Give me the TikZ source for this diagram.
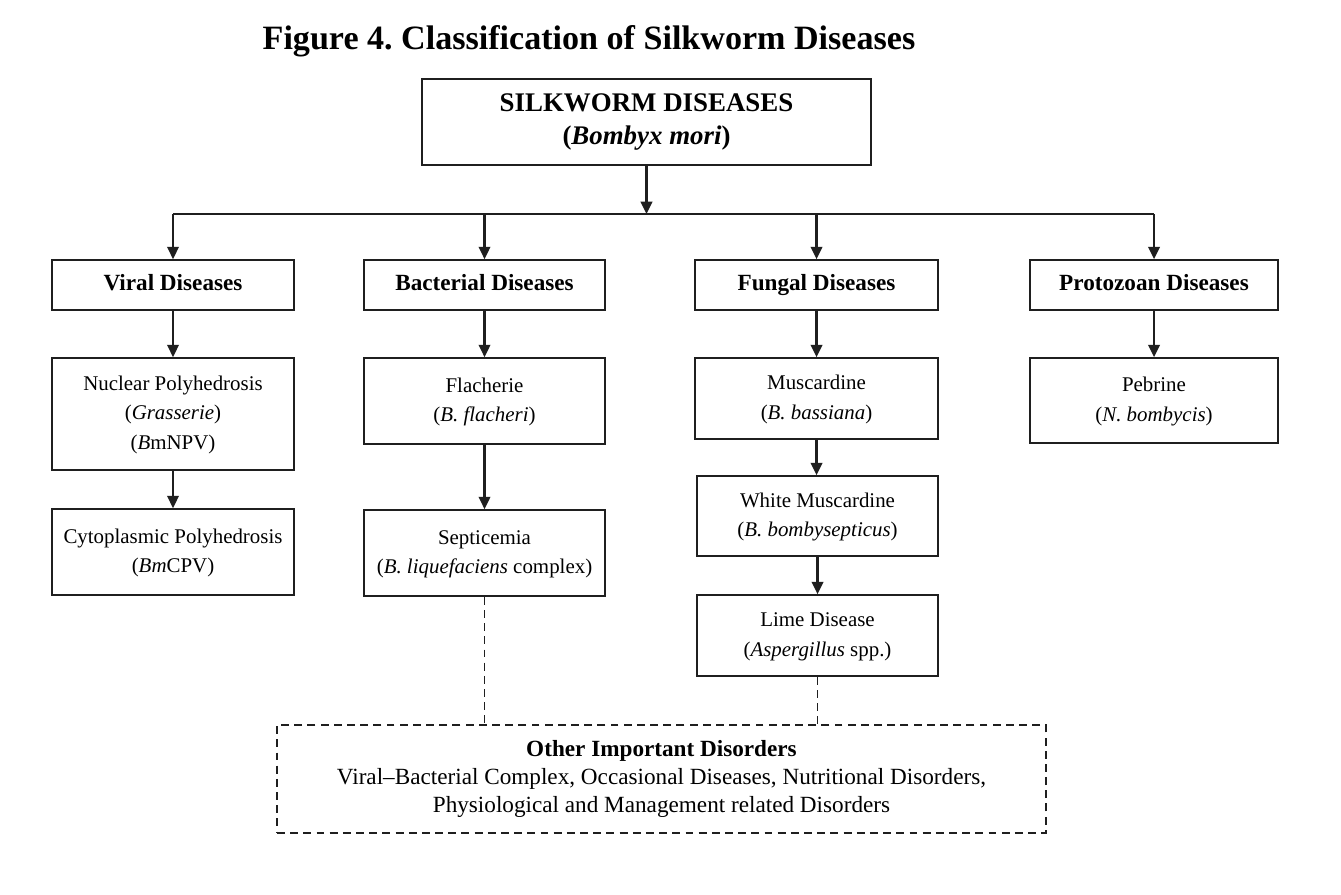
\documentclass[tikz,border=0pt]{standalone}
\usepackage{fontspec}
\setmainfont{Liberation Serif}
\usetikzlibrary{arrows.meta}
\frenchspacing
\begin{document}
\begin{tikzpicture}[x=0.02cm,y=-0.02cm,
  box/.style={draw=black!88,line width=0.95pt,inner sep=0pt,align=center,fill=white},
  body/.style={font=\fontsize{11.9}{17}\selectfont},
  head/.style={font=\fontsize{13.2}{16}\selectfont\bfseries},
  arr/.style={line width=1.3pt,draw=black!88,-{Triangle[length=7pt,width=6.5pt]}},
  dashline/.style={line width=1.1pt,draw=black!88,dash pattern=on 4.5pt off 3pt}]
\useasboundingbox (0,0) rectangle (1341,894);
\fill[white] (0,0) rectangle (1341,894);
\node[anchor=base,font=\fontsize{19.4}{22}\selectfont\bfseries] (title) at (589,49) {Figure 4. Classification of Silkworm Diseases};
\node[box,minimum width=449*0.02cm,minimum height=86*0.02cm,font=\fontsize{15.3}{18.7}\selectfont\bfseries] (root) at (646.5,122) {SILKWORM DISEASES\\(\textit{Bombyx mori})};
\node[box,head,minimum width=242*0.02cm,minimum height=50*0.02cm] (viral) at (173,285) {\strut Viral Diseases};
\node[box,head,minimum width=241*0.02cm,minimum height=50*0.02cm] (bact) at (484.5,285) {\strut Bacterial Diseases};
\node[box,head,minimum width=243*0.02cm,minimum height=50*0.02cm] (fung) at (816.5,285) {\strut Fungal Diseases};
\node[box,head,minimum width=248*0.02cm,minimum height=50*0.02cm] (proto) at (1154,285) {\strut Protozoan Diseases};
\node[box,body,minimum width=242*0.02cm,minimum height=112*0.02cm] (npv) at (173,414) {\strut Nuclear Polyhedrosis\\(\textit{Grasserie})\\(\textit{B}mNPV)\strut};
\node[box,body,minimum width=241*0.02cm,minimum height=86*0.02cm] (flach) at (484.5,401) {\strut Flacherie\\(\textit{B. flacheri})\strut};
\node[box,body,minimum width=243*0.02cm,minimum height=81*0.02cm] (musc) at (816.5,398.5) {\strut Muscardine\\(\textit{B. bassiana})\strut};
\node[box,body,minimum width=248*0.02cm,minimum height=85*0.02cm] (pebr) at (1154,400.5) {\strut Pebrine\\(\textit{N. bombycis})\strut};
\node[box,body,minimum width=242*0.02cm,minimum height=86*0.02cm] (cpv) at (173,552) {\strut Cytoplasmic Polyhedrosis\\(\textit{Bm}CPV)\strut};
\node[box,body,minimum width=241*0.02cm,minimum height=86*0.02cm] (sept) at (484.5,553) {\strut Septicemia\\(\textit{B. liquefaciens} complex)\strut};
\node[box,body,minimum width=241*0.02cm,minimum height=80*0.02cm] (white) at (817.5,516) {\strut White Muscardine\\(\textit{B. bombysepticus})\strut};
\node[box,body,minimum width=241*0.02cm,minimum height=81*0.02cm] (lime) at (817.5,635.5) {\strut Lime Disease\\(\textit{Aspergillus} spp.)\strut};
\node[box,dashline,minimum width=769*0.02cm,minimum height=108*0.02cm,font=\fontsize{13.2}{15.9}\selectfont] (other) at (661.5,779) {\textbf{Other Important Disorders}\\Viral–Bacterial Complex, Occasional Diseases, Nutritional Disorders,\\Physiological and Management related Disorders};
\coordinate (bus) at (646.5,214);
\draw[line width=1.1pt,draw=black!88] (viral.north |- bus) -- (proto.north |- bus);
\draw[arr] (root.south) -- (bus);
\draw[arr] (viral.north |- bus) -- (viral.north);
\draw[arr] (bact.north |- bus) -- (bact.north);
\draw[arr] (fung.north |- bus) -- (fung.north);
\draw[arr] (proto.north |- bus) -- (proto.north);
\draw[arr] (viral.south) -- (npv.north);
\draw[arr] (npv.south) -- (cpv.north);
\draw[arr] (bact.south) -- (flach.north);
\draw[arr] (flach.south) -- (sept.north);
\draw[arr] (fung.south) -- (musc.north);
\draw[arr] (musc.south) -- (musc.south |- white.north);
\draw[arr] (white.south) -- (lime.north);
\draw[arr] (proto.south) -- (pebr.north);
\draw[dashline] (sept.south) -- (sept.south |- other.north);
\draw[dashline] (lime.south) -- (lime.south |- other.north);
\end{tikzpicture}
\end{document}
